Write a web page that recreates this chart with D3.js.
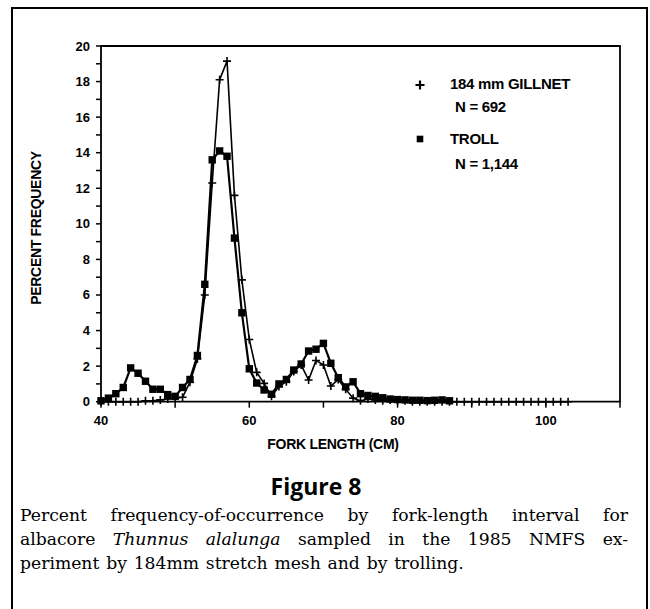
<!DOCTYPE html>
<html><head><meta charset="utf-8">
<script src="https://cdn.jsdelivr.net/npm/d3@7"></script>
<style>body{margin:0;background:#fff}svg{display:block}</style>
</head><body><svg id="c" width="650" height="609"></svg>
<script>
// ---- data ----
const trollLength = d3.range(40, 88);
const trollPct = [0.05,0.2,0.45,0.8,1.9,1.6,1.15,0.7,0.7,0.4,0.3,0.8,1.25,2.6,6.6,13.6,14.1,13.8,9.2,5.0,1.85,1.05,0.66,0.42,1.0,1.25,1.78,2.12,2.85,2.95,3.28,2.16,1.35,0.83,1.12,0.45,0.35,0.3,0.22,0.15,0.12,0.1,0.08,0.08,0.06,0.08,0.1,0.05];
const gillLength = d3.range(40, 104);
const gillPct = [0,0,0,0,0,0,0.05,0.05,0.1,0.15,0.2,0.25,1.1,2.4,6.0,12.3,18.1,19.15,11.6,6.85,3.5,1.65,1.03,0.3,0.85,1.12,1.7,2.06,1.22,2.32,2.06,0.88,1.25,0.7,0.2,0.05,0.15,0.1,0.05,0.1,0.05,0.05,0,0,0,0,0,0,0,0,0,0,0,0,0,0,0,0,0,0,0,0,0,0];
const xTicks = [40,50,60,70,80,90,100,110];
const xLabels = [40,60,80,100];
const yTicks = d3.range(0, 21);
const yLabels = d3.range(0, 21, 2);
const legendItems = [["184 mm GILLNET","N = 692"],["TROLL","N = 1,144"]];
const captionLines = [
  {words:"Percent frequency-of-occurrence by fork-length interval for".split(" "), justify:true},
  {words:"albacore |Thunnus |alalunga sampled in the 1985 NMFS ex-".split(" "), justify:true},
  {words:"periment by 184mm stretch mesh and by trolling.".split(" "), justify:false}
];

const svg = d3.select("#c");
const x = d3.scaleLinear().domain([40,110]).range([101,620]);
const y = d3.scaleLinear().domain([0,20]).range([401.7,46]);
const sans = "'Liberation Sans', Arial, sans-serif";

// outer frame (left, top, right)
svg.append("path").attr("d","M12,609 V8 H647 V609").attr("fill","none").attr("stroke","#000").attr("stroke-width",2);

// plot box
svg.append("path").attr("d",`M${x(40)},${y(20)} H${x(110)} V${y(0)} H${x(40)} Z`).attr("fill","none").attr("stroke","#000").attr("stroke-width",1.8);

// y ticks
svg.append("g").selectAll("line").data(yTicks).join("line")
  .attr("x1",x(40)-5).attr("x2",x(40)).attr("y1",d=>y(d)).attr("y2",d=>y(d))
  .attr("stroke","#000").attr("stroke-width",1.5);
svg.append("g").selectAll("text").data(yLabels).join("text")
  .attr("x",x(40)-11).attr("y",d=>y(d)+4.5).attr("text-anchor","end")
  .attr("font-family",sans).attr("font-weight","bold").attr("font-size",13).text(d=>d);

// x ticks
svg.append("g").selectAll("line").data(xTicks).join("line")
  .attr("x1",d=>x(d)).attr("x2",d=>x(d)).attr("y1",y(0)).attr("y2",y(0)+6)
  .attr("stroke","#000").attr("stroke-width",1.5);
svg.append("g").selectAll("text").data(xLabels).join("text")
  .attr("x",d=>x(d)).attr("y",y(0)+23).attr("text-anchor","middle")
  .attr("font-family",sans).attr("font-weight","bold").attr("font-size",13).text(d=>d);

// axis titles
svg.append("text").attr("x",333).attr("y",449).attr("text-anchor","middle")
  .attr("font-family",sans).attr("font-weight","bold").attr("font-size",14).attr("letter-spacing",-0.3)
  .text("FORK LENGTH (CM)");
svg.append("text").attr("transform","translate(41,228) rotate(-90)").attr("text-anchor","middle")
  .attr("font-family",sans).attr("font-weight","bold").attr("font-size",14).attr("letter-spacing",-0.3)
  .text("PERCENT FREQUENCY");

// series
const line = d3.line().x(d=>x(d[0])).y(d=>y(d[1]));
const gill = gillLength.map((l,i)=>[l,gillPct[i]]);
const troll = trollLength.map((l,i)=>[l,trollPct[i]]);

function plus(g, cx, cy, s=4, w=1.6){
  g.append("path").attr("d",`M${cx-s},${cy} H${cx+s} M${cx},${cy-s} V${cy+s}`)
   .attr("stroke","#000").attr("stroke-width",w).attr("fill","none");
}
function square(g, cx, cy, s=3.7){
  g.append("rect").attr("x",cx-s).attr("y",cy-s).attr("width",2*s).attr("height",2*s).attr("fill","#000");
}

svg.append("path").datum(gill).attr("d",line).attr("fill","none").attr("stroke","#000").attr("stroke-width",1.6);
svg.append("path").datum(troll).attr("d",line).attr("fill","none").attr("stroke","#000").attr("stroke-width",2.2);
const gm = svg.append("g");
gill.forEach(d=>plus(gm, x(d[0]), y(d[1])));
const tm = svg.append("g");
troll.forEach(d=>square(tm, x(d[0]), y(d[1])));

// legend
const lg = svg.append("g");
plus(lg, 420, 85, 4.5, 2.2);
square(lg, 420, 139, 3.3);
const ly = [[89,112],[144,169]];
legendItems.forEach((it,i)=>{
  lg.append("text").attr("x",450).attr("y",ly[i][0]).attr("font-family",sans).attr("font-weight","bold")
    .attr("font-size",15).attr("letter-spacing",-0.3).text(it[0]);
  lg.append("text").attr("x",455).attr("y",ly[i][1]).attr("font-family",sans).attr("font-weight","bold")
    .attr("font-size",15).attr("letter-spacing",-0.3).text(it[1]);
});

// caption
svg.append("text").attr("x",316).attr("y",495).attr("text-anchor","middle")
  .attr("font-family","'Open Sans', 'Noto Sans', sans-serif").attr("font-weight","bold").attr("font-size",23)
  .text("Figure 8");
const serif = "'DejaVu Serif', serif";
const capG = svg.append("g");
const capY = [521,545,569];
captionLines.forEach((ln,i)=>{
  const nodes = ln.words.map(w=>{
    const it = w.startsWith("|");
    const t = capG.append("text").attr("y",capY[i]).attr("font-family",serif).attr("font-size",17.2)
      .attr("font-style", it ? "italic" : "normal").text(it ? w.slice(1) : w);
    return t;
  });
  const widths = nodes.map(n=>n.node().getComputedTextLength());
  const total = d3.sum(widths);
  const gap = ln.justify ? (628-20-total)/(nodes.length-1) : 6.8;
  let cx = 20;
  nodes.forEach((n,k)=>{ n.attr("x",cx); cx += widths[k]+gap; });
});
</script></body></html>
